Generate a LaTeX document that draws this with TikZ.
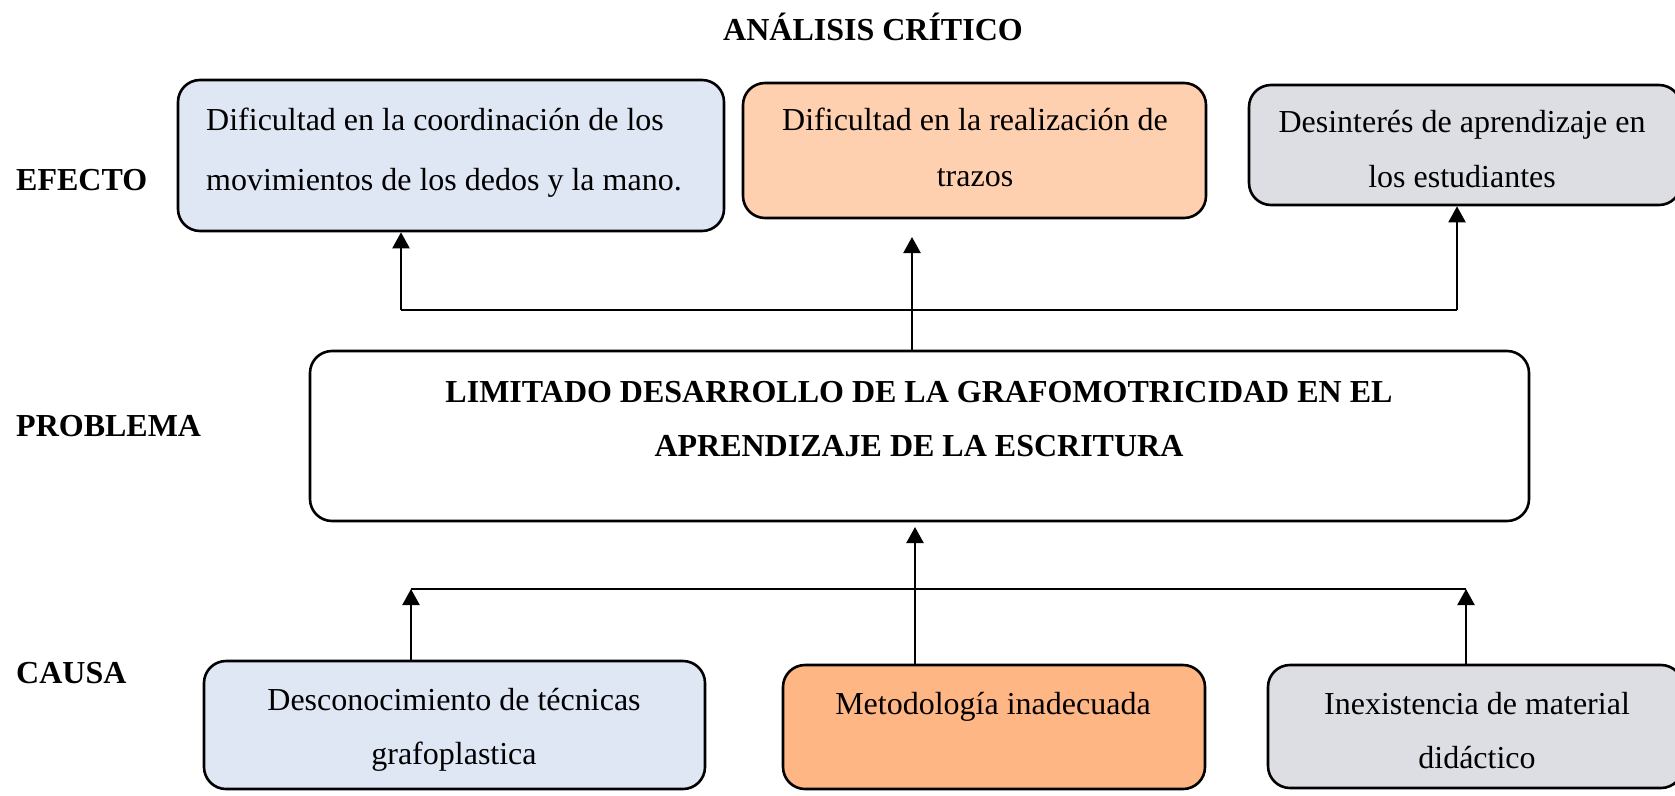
\documentclass[tikz,border=0pt]{standalone}
\usepackage{fontspec}
\setmainfont{Liberation Serif}
\usetikzlibrary{arrows.meta}
\definecolor{bluelt}{HTML}{DFE7F5}
\definecolor{peachlt}{HTML}{FFD0B0}
\definecolor{orangemd}{HTML}{FFB685}
\definecolor{graylt}{HTML}{DCDEE3}
\newcommand{\lnst}{\rule[-8pt]{0pt}{32pt}}
\begin{document}
\begin{tikzpicture}[x=1pt,y=-1pt,
  box/.style={draw=black, line width=2.6pt, rounded corners=22pt, inner sep=0pt},
  txt/.style={inner sep=0pt, font=\fontsize{32}{56}\selectfont, align=center, anchor=north},
  lbl/.style={inner sep=0pt, font=\fontsize{32}{40}\selectfont\bfseries, anchor=base west},
  arr/.style={line width=2.2pt, -{Triangle[width=17pt,length=16pt]}},
  conn/.style={line width=2pt}]
\useasboundingbox (0,0) rectangle (1675,795);
\fill[white] (0,0) rectangle (1675,795);

% title and row labels
\node[lbl, anchor=base] (title) at (873,40) {ANÁLISIS CRÍTICO};
\node[lbl] (lefecto) at (16,190) {EFECTO};
\node[lbl] (lproblema) at (16,436) {PROBLEMA};
\node[lbl] (lcausa) at (16,683) {CAUSA};

% effect boxes
\node[box, fill=bluelt, minimum width=546pt, minimum height=151pt] (b1) at (451,155.5) {};
\node[txt, anchor=north west, align=left, font=\fontsize{32}{60}\selectfont] (t1) at (206,106)
  {\lnst Dificultad en la coordinación de los\\movimientos de los dedos y la mano.};
\node[box, fill=peachlt, minimum width=463pt, minimum height=135pt] (b2) at (974.5,150.5) {};
\node[txt, font=\fontsize{32}{56}\selectfont] (t2) at (975,106)
  {\lnst Dificultad en la realización de\\trazos};
\node[box, fill=graylt, minimum width=432pt, minimum height=120pt] (b3) at (1465,145) {};
\node[txt, font=\fontsize{32}{55}\selectfont] (t3) at (1462,108)
  {\lnst Desinterés de aprendizaje en\\los estudiantes};

% problem box
\node[box, fill=white, minimum width=1219pt, minimum height=170pt] (pb) at (919.5,436) {};
\node[txt, font=\fontsize{32}{54}\selectfont\bfseries] (tp) at (919,378)
  {\lnst LIMITADO DESARROLLO DE LA GRAFOMOTRICIDAD EN EL\\APRENDIZAJE DE LA ESCRITURA};

% cause boxes
\node[box, fill=bluelt, minimum width=501pt, minimum height=128pt] (b4) at (454.5,725) {};
\node[txt, font=\fontsize{32}{54}\selectfont] (t4) at (454,686)
  {\lnst Desconocimiento de técnicas\\grafoplastica};
\node[box, fill=orangemd, minimum width=422pt, minimum height=124pt] (b5) at (994,727) {};
\node[txt] (t5) at (993,690) {\lnst Metodología inadecuada};
\node[box, fill=graylt, minimum width=415pt, minimum height=123pt] (b6) at (1475.5,726.5) {};
\node[txt, font=\fontsize{32}{54}\selectfont] (t6) at (1477,690)
  {\lnst Inexistencia de material\\didáctico};

% upper connectors
\coordinate (j1) at (401,310);
\coordinate (j3) at (1457,310);
\coordinate (m1) at (912,237);
\draw[conn] (j1) -- (j3);
\draw[arr] (j1) -- (j1 |- b1.south);
\draw[arr] (j3) -- (j3 |- b3.south);
\draw[arr] (pb.north -| m1) -- (m1);

% lower connectors
\coordinate (k1) at (411,589);
\coordinate (k3) at (1466,589);
\coordinate (m2) at (915,527);
\draw[conn] (k1) -- (k3);
\draw[arr] (k1 |- b4.north) -- (k1);
\draw[arr] (k3 |- b6.north) -- (k3);
\draw[arr] (m2 |- b5.north) -- (m2);
\end{tikzpicture}
\end{document}
